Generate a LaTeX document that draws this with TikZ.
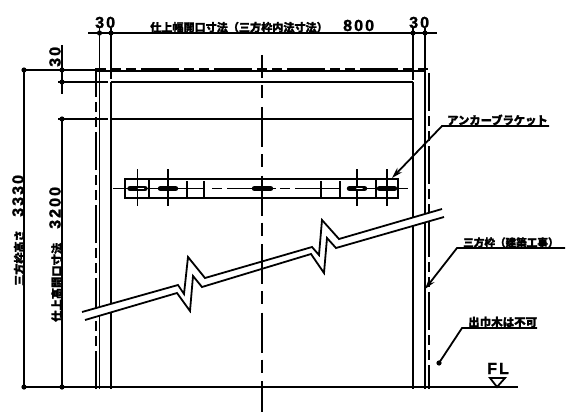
\documentclass[tikz,border=0pt]{standalone}
\usepackage{fontspec}
\usetikzlibrary{arrows.meta}
\newfontfamily\jpfont[FakeBold=1.6]{Noto Sans CJK JP}
\newfontfamily\numfont[LetterSpace=13,FakeBold=1.5]{Liberation Sans}
\tikzset{wall/.style = {line width=1.8pt},
         dimline/.style = {line width=1.7pt},
         framedash/.style = {line width=1.8pt, dash pattern=on 38pt off 5pt on 10pt off 5pt on 10pt off 5pt},
         slot/.style = {line width=5.4pt, line cap=round},
         jptext/.style = {inner sep=0pt, anchor=base west, font=\jpfont\bfseries\fontsize{11.1}{12}\selectfont},
         numtext/.style = {inner sep=0pt, anchor=base west, font=\numfont\bfseries\fontsize{16}{17}\selectfont},
         dimdot/.pic = {\fill (0,0) circle (2.6pt);}}

\begin{document}
\begin{tikzpicture}[x=1pt,y=-1pt,line join=miter]
        \useasboundingbox (0,0) rectangle (588,417);

        % frame
        \draw[wall](99.5,28)--(99.5,389);
        \draw[wall](111,28)--(111,79);
        \draw[wall](111,82)--(111,389);
        \draw[wall](413,28)--(413,80);
        \draw[wall](413,82)--(413,389);
        \draw[wall](425,28)--(425,389);
        \draw[framedash](96,389)--(96,69)--(429,69)--(429,389);
        \draw[line width=2.2pt](96,71)--(425,71);
        \draw[wall](111,82)--(413,82);
        \draw[wall](111,119)--(413,119);

        % dimension lines
        \draw[dimline](88,33)--(437,33);
        \draw[dimline](24,70)--(96,70);
        \draw[dimline](58,82)--(108,82);
        \draw[dimline](58,119)--(108,119);
        \draw[dimline](24,70)--(24,387);
        \draw[dimline](62,45)--(62,94);
        \draw[dimline](62,119)--(62,387);
        \draw[wall](22,387)--(518,387);
        \foreach \px/\py in {99.5/33,111/33,413/33,425/33,24/70,62/70,62/82,62/119,24/387,62/387}
            \pic at (\px,\py) {dimdot};

        % bracket
        \draw[wall](125,179) rectangle (398,198);
        \draw[wall](149,179)--(149,198);
        \draw[wall](376,179)--(376,198);
        \foreach \xa/\xb in {113/204,212/222,227/252,273/276,280/290,295/340,367/408}
            \draw[wall](\xa,188.5)--(\xb,188.5);
        \foreach \xa in {137.5,168,357,387}
            \draw[wall](\xa,169)--(\xa,206);
        \foreach \xa in {187,204,321,340}
            \draw[wall](\xa,181)--(\xa,197);
        \foreach \xa/\xb in {130/145,160.5/175.5,254.5/270.5,349.5/364.5,379.5/394.5}
            \draw[slot](\xa,188.5)--(\xb,188.5);
        \draw[white,line width=1.6pt,line cap=round](138.5,188.5)--(143.5,188.5);
        \draw[white,line width=1.6pt,line cap=round](357,188.5)--(362,188.5);

        % break lines
        \fill[white](82,312)--(178,285)--(184,294)--(188,257)--(205,278)--(312,247)--(319,255)--(322,220)--(339,239)--(442,209)
            --(444,217)--(336,248)--(327,238)--(324,273)--(311,254)--(202,287)--(193,276)--(190,311)--(177,293)--(85,320)--cycle;
        \draw[line width=1.8pt](82,312)--(178,285)--(184,294)--(188,257)--(205,278)--(312,247)--(319,255)--(322,220)--(339,239)--(442,209);
        \draw[line width=1.8pt](85,320)--(177,293)--(190,311)--(193,276)--(202,287)--(311,254)--(324,273)--(327,238)--(336,248)--(444,217);

        % center line
        \draw[wall,dash pattern=on 40pt off 7pt on 13pt off 8.5pt,dash phase=16.5pt](262,55)--(262,412);

        % leaders
        \coordinate (bracketTip) at (392,178);
        \coordinate (bracketElbow) at (442,126);
        \coordinate (bracketEnd) at (549,126);
        \coordinate (frameTip) at (425,289);
        \coordinate (frameElbow) at (457,248);
        \coordinate (frameEnd) at (565,248);
        \coordinate (skirtTip) at (439,363);
        \coordinate (skirtElbow) at (462,328);
        \coordinate (skirtEnd) at (537,328);
        \draw[wall,{Stealth[length=11pt,width=6.5pt]}-](bracketTip)--(bracketElbow)--(bracketEnd);
        \draw[wall,{Stealth[length=11pt,width=6.5pt]}-](frameTip)--(frameElbow)--(frameEnd);
        \draw[wall](skirtTip)--(skirtElbow)--(skirtEnd);
        \pic at (skirtTip) {dimdot};

        % FL mark
        \coordinate (flLeft) at (490,378);
        \coordinate (flRight) at (505,378);
        \coordinate (flTip) at (497,387);
        \draw[wall](flLeft)--(flRight)--(flTip)--cycle;

        % labels
        \node[numtext] (topLeft) at (95,28) {30};
        \node[numtext] (topRight) at (409,28) {30};
        \node[numtext] (topWidth) at (343,31) {800};
        \node[jptext] (widthLabel) at (150,31.5) {仕上幅開口寸法（三方枠内法寸法）};
        \node[numtext,rotate=90] (sideTop) at (60.5,67) {30};
        \node[numtext,rotate=90] (sideOuter) at (23.5,217) {3330};
        \node[numtext,rotate=90] (sideInner) at (60.5,229) {3200};
        \node[jptext,rotate=90] (outerLabel) at (23.5,286) {三方枠高さ};
        \node[jptext,rotate=90,font=\jpfont\bfseries\fontsize{11.3}{12}\selectfont] (innerLabel) at (61,322) {仕上高開口寸法};
        \node[jptext,font=\jpfont\bfseries\fontsize{11.3}{12}\selectfont] (bracketLabel) at (447,124.5) {アンカーブラケット};
        \node[jptext,font=\jpfont\bfseries\fontsize{10.6}{12}\selectfont] (frameLabel) at (463,246.5) {三方枠（建築工事）};
        \node[jptext,font=\jpfont\bfseries\fontsize{11.5}{12}\selectfont] (skirtLabel) at (468,326.5) {出巾木は不可};
        \node[numtext] (flLabel) at (487,374) {FL};
\end{tikzpicture}
\end{document}
